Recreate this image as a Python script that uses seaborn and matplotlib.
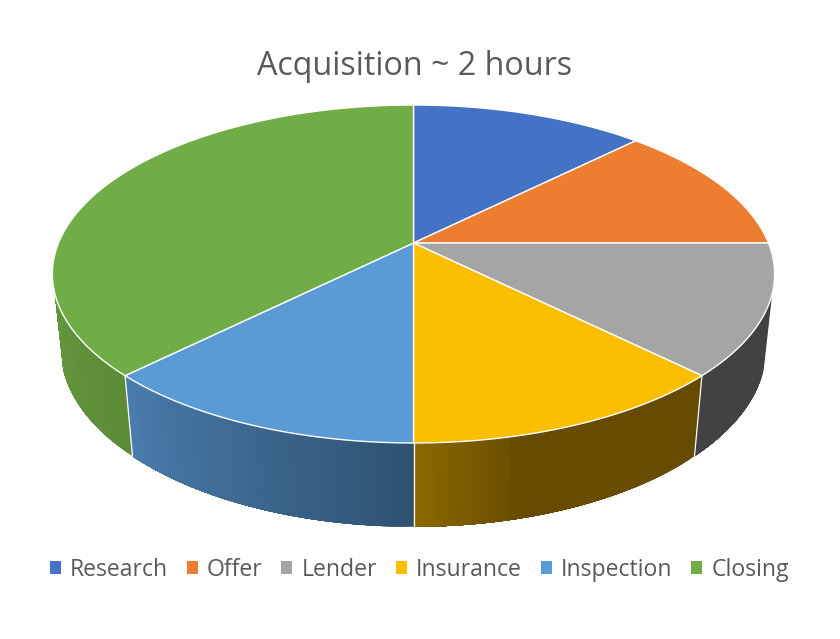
import numpy as np
import seaborn as sns
import matplotlib.pyplot as plt
from matplotlib.patches import Patch

# acquisition breakdown, in minutes
stages = ["Research", "Offer", "Lender", "Insurance", "Inspection", "Closing"]
minutes = [15, 15, 15, 15, 15, 45]
title = "Acquisition ~ 2 hours"

top_colors = ["#4472c4", "#ed7d31", "#a5a5a5", "#fcbe00", "#5b9bd5", "#70ad47"]
# rim shading, left end to right end of each slice as seen on screen
rim_shades = {
    "Lender": ["#424242", "#424242"],
    "Insurance": ["#8b6800", "#664b00", "#664b00", "#664b00"],
    "Inspection": ["#4a7cad", "#2f5272"],
    "Closing": ["#63963c", "#5c8c36"],
}

sns.set_theme(style="white")
plt.rcParams["font.family"] = ["Open Sans", "DejaVu Sans"]
text_color = "#595959"

fig = plt.figure(figsize=(8.4, 6.39), dpi=100)
ax = fig.add_axes([0, 0, 1, 1])
ax.set_xlim(0, 840)
ax.set_ylim(639, 0)
ax.axis("off")


# tilted disc: the perspective makes the near half bigger than the far half
def project(theta, depth=0.0):
    u, v = np.sin(theta), np.cos(theta)
    den = 1 + 0.023 * depth + 0.1834 * v
    x = 413.5 + 355 * u / den
    y = 243 + (-163.3 * v + 75 * depth) / den
    return x, y


edges = np.radians(np.concatenate([[0], np.cumsum(minutes)]) / np.sum(minutes) * 360)
rim_from, rim_to = np.radians(107), np.radians(253)

# rim first. each strip reaches on to the end of the slice and the next one
# paints over it, thin separate strips leave seams
for name, start, stop in zip(stages, edges[:-1], edges[1:]):
    a, b = max(start, rim_from), min(stop, rim_to)
    if name not in rim_shades or a >= b:
        continue
    n = int(np.degrees(b - a))
    cuts = np.linspace(a, b, n + 1)
    shades = sns.blend_palette(rim_shades[name], n)[::-1]
    for i in range(n):
        t = cuts[i:]
        xt, yt = project(t)
        xb, yb = project(t[::-1], 1.0)
        ax.fill(np.r_[xt, xb], np.r_[yt, yb], color=shades[i], lw=0, zorder=1)

for edge in edges:
    if rim_from < edge < rim_to:
        xt, yt = project(edge)
        xb, yb = project(edge, 1.0)
        ax.plot([xt, xb], [yt, yb], color="white", lw=0.9, zorder=2)

# top face
for start, stop, color in zip(edges[:-1], edges[1:], top_colors):
    t = np.linspace(start, stop, 200)
    x, y = project(t)
    ax.fill(np.r_[413.5, x], np.r_[243, y], facecolor=color, edgecolor="white",
            lw=1, joinstyle="round", zorder=3)

ax.set_title(title, x=0.493, y=0.883, pad=0, fontsize=23.2, color=text_color)

handles = [Patch(facecolor=c, edgecolor="none", label=s) for s, c in zip(stages, top_colors)]
ax.legend(handles=handles, ncol=6, loc="center", bbox_to_anchor=(0.499, 0.108),
          frameon=False, fontsize=16.6, labelcolor=text_color, handlelength=0.48,
          handleheight=0.48, handletextpad=0.39, columnspacing=0.82, borderpad=0)

fig.savefig("out.png", dpi=100)
